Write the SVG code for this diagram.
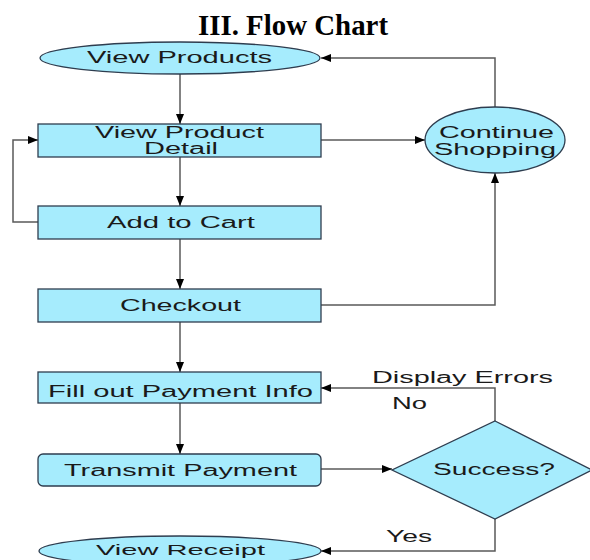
<svg xmlns="http://www.w3.org/2000/svg" width="590" height="560" viewBox="0 0 590 560">
<defs>
<marker id="ah" markerUnits="userSpaceOnUse" markerWidth="11" markerHeight="9" refX="10" refY="4.5" orient="auto">
<path d="M0,0.5 L10,4.5 L0,8.5 z" fill="#000"/>
</marker>
<style>
.shape{fill:#a6ecfd;stroke:#2e3d4f;stroke-width:1.3}
.lbl{font-family:"Liberation Sans",Arial,sans-serif;font-size:16px;fill:#1a1a1a}
.conn{fill:none;stroke:#5a5a5a;stroke-width:1.5}
.title{font-family:"Liberation Serif","Times New Roman",serif;font-weight:bold;font-size:29px;fill:#000}
</style>
</defs>
<rect width="590" height="560" fill="#fff"/>
<text class="title" x="198" y="35" textLength="190" lengthAdjust="spacingAndGlyphs">III. Flow Chart</text>
<g id="connectors">
<path class="conn" d="M180,74 V124" marker-end="url(#ah)"/>
<path class="conn" d="M180,157 V206" marker-end="url(#ah)"/>
<path class="conn" d="M180,239 V289" marker-end="url(#ah)"/>
<path class="conn" d="M180,322 V372" marker-end="url(#ah)"/>
<path class="conn" d="M180,403 V454" marker-end="url(#ah)"/>
<path class="conn" d="M321,140 H425" marker-end="url(#ah)"/>
<path class="conn" d="M495,107 V58 H321" marker-end="url(#ah)"/>
<path class="conn" d="M321,305 H495 V173" marker-end="url(#ah)"/>
<path class="conn" d="M38,222 H13 V140 H38" marker-end="url(#ah)"/>
<path class="conn" d="M321,469 H392" marker-end="url(#ah)"/>
<path class="conn" d="M495,421 V388 H321" marker-end="url(#ah)"/>
<path class="conn" d="M495,519 V551 H321" marker-end="url(#ah)"/>
</g>
<g id="view-products">
<ellipse class="shape" cx="180" cy="58" rx="140" ry="16"/>
<text class="lbl" x="87" y="63" textLength="185" lengthAdjust="spacingAndGlyphs">View Products</text>
</g>
<g id="view-product-detail">
<rect class="shape" x="38" y="124" width="283" height="33"/>
<text class="lbl" x="95" y="138" textLength="169" lengthAdjust="spacingAndGlyphs">View Product</text>
<text class="lbl" x="144" y="154" textLength="74" lengthAdjust="spacingAndGlyphs">Detail</text>
</g>
<g id="continue-shopping">
<ellipse class="shape" cx="495" cy="140" rx="70" ry="33"/>
<text class="lbl" x="439" y="138" textLength="115" lengthAdjust="spacingAndGlyphs">Continue</text>
<text class="lbl" x="434" y="155" textLength="122" lengthAdjust="spacingAndGlyphs">Shopping</text>
</g>
<g id="add-to-cart">
<rect class="shape" x="38" y="206" width="283" height="33"/>
<text class="lbl" x="107" y="228" textLength="148" lengthAdjust="spacingAndGlyphs">Add to Cart</text>
</g>
<g id="checkout">
<rect class="shape" x="38" y="289" width="283" height="33"/>
<text class="lbl" x="120" y="311" textLength="121" lengthAdjust="spacingAndGlyphs">Checkout</text>
</g>
<g id="fill-payment">
<rect class="shape" x="38" y="372" width="283" height="31"/>
<text class="lbl" x="48" y="397" textLength="265" lengthAdjust="spacingAndGlyphs">Fill out Payment Info</text>
</g>
<g id="transmit-payment">
<rect class="shape" x="38" y="454" width="283" height="32" rx="5"/>
<text class="lbl" x="64" y="476" textLength="233" lengthAdjust="spacingAndGlyphs">Transmit Payment</text>
</g>
<g id="success">
<polygon class="shape" points="495,421 592,470 495,519 392,470"/>
<text class="lbl" x="433" y="475" textLength="122" lengthAdjust="spacingAndGlyphs">Success?</text>
</g>
<g id="labels">
<text class="lbl" x="372" y="383" textLength="181" lengthAdjust="spacingAndGlyphs">Display Errors</text>
<text class="lbl" x="392" y="409" textLength="35" lengthAdjust="spacingAndGlyphs">No</text>
<text class="lbl" x="386" y="542" textLength="46" lengthAdjust="spacingAndGlyphs">Yes</text>
</g>
<g id="view-receipt">
<ellipse class="shape" cx="180" cy="551" rx="141" ry="15"/>
<text class="lbl" x="96" y="555" font-size="15" style="font-size:15px" textLength="169" lengthAdjust="spacingAndGlyphs">View Receipt</text>
</g>
</svg>
